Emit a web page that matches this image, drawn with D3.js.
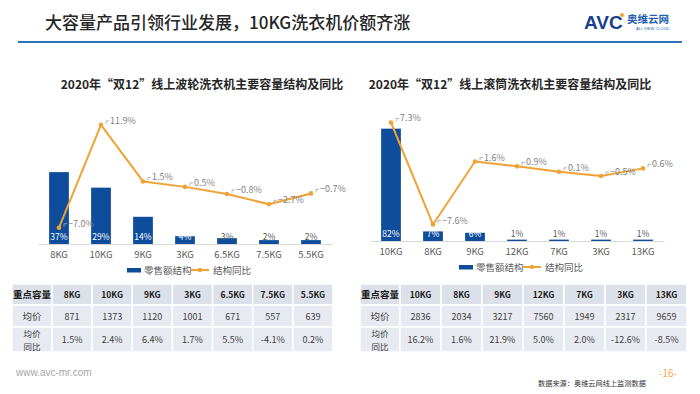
<!DOCTYPE html>
<html><head><meta charset="utf-8">
<script src="https://cdn.jsdelivr.net/npm/d3@7"></script>
<style>
html,body{margin:0;padding:0;background:#fff;}
svg{display:block;font-family:"Noto Sans CJK SC","Noto Sans",sans-serif;}
</style></head>
<body><svg id="c" width="700" height="394"></svg>
<script>
// ---- data ----
const pageTitle = "大容量产品引领行业发展，10KG洗衣机价额齐涨";
const leftTitle = "2020年“双12”线上波轮洗衣机主要容量结构及同比";
const rightTitle = "2020年“双12”线上滚筒洗衣机主要容量结构及同比";
const legendLabels = ["零售额结构", "结构同比"];
const leftCats = ["8KG","10KG","9KG","3KG","6.5KG","7.5KG","5.5KG"];
const leftShare = [37,29,14,4,3,2,2];
const leftYoY = [-7.0,11.9,1.5,0.5,-0.8,-2.7,-0.7];
const rightCats = ["10KG","8KG","9KG","12KG","7KG","3KG","13KG"];
const rightShare = [82,7,6,1,1,1,1];
const rightYoY = [7.3,-7.6,1.6,0.9,0.1,-0.5,0.6];
const rowHeaders = ["重点容量","均价","均价\n同比"];
const leftPrice = [871,1373,1120,1001,671,557,639];
const leftPriceYoY = ["1.5%","2.4%","6.4%","1.7%","5.5%","-4.1%","0.2%"];
const rightPrice = [2836,2034,3217,7560,1949,2317,9659];
const rightPriceYoY = ["16.2%","1.6%","21.9%","5.0%","2.0%","-12.6%","-8.5%"];
const sourceText = "数据来源：奥维云网线上监测数据";
const siteText = "www.avc-mr.com";
const pageNo = "-16-";

const BLUE = "#0E4D9C", ORANGE = "#EFA235", GRAY = "#595959";
const svg = d3.select("#c");

// ---- header ----
svg.append("text").attr("x",45).attr("y",29).attr("font-size",17).attr("font-weight",500)
  .attr("fill","#262626").text(pageTitle);
svg.append("line").attr("x1",18).attr("x2",682).attr("y1",42).attr("y2",42)
  .attr("stroke","#2E75B6").attr("stroke-width",2);
// logo
svg.append("text").attr("x",584).attr("y",29).attr("font-family","Liberation Sans, Arial")
  .attr("font-size",19).attr("font-weight",900).attr("fill","#1B3F8F").text("AVC");
svg.append("circle").attr("cx",622).attr("cy",15).attr("r",2).attr("fill",ORANGE);
svg.append("text").attr("x",627).attr("y",23).attr("font-size",10.5).attr("font-weight",700)
  .attr("fill","#1F5FB0").text("奥维云网");
svg.append("text").attr("x",636).attr("y",30).attr("font-size",4).attr("font-family","Liberation Sans, Arial")
  .attr("fill","#1F5FB0").text("ALL VIEW CLOUD");

// ---- chart builder ----
function drawChart(cfg){
  const g = svg.append("g");
  g.append("text").attr("x",cfg.titleX).attr("y",89).attr("text-anchor","middle")
    .attr("font-size",12).attr("font-weight",700).attr("fill","#262626").text(cfg.title);
  const x = d3.scaleBand().domain(cfg.cats).range(cfg.xRange).paddingInner(0.53).paddingOuter(0.265);
  const yB = d3.scaleLinear().domain(cfg.barDomain).range([cfg.base, cfg.top]);
  const yL = d3.scaleLinear().domain(cfg.lineDomain).range([cfg.base, cfg.top]);
  const cx = i => x(cfg.cats[i]) + x.bandwidth()/2;
  // baseline axis
  const ax = g.append("g").attr("transform",`translate(0,${cfg.base})`)
    .call(d3.axisBottom(x).tickSize(0).tickPadding(7));
  ax.select(".domain").attr("stroke","#D9D9D9").attr("stroke-width",1);
  ax.selectAll("text").attr("font-size",9.5).attr("fill",GRAY).attr("font-family","Noto Sans CJK SC");
  // bars
  g.selectAll("rect.bar").data(cfg.share).join("rect").attr("class","bar")
    .attr("x",(d,i)=>x(cfg.cats[i])).attr("width",x.bandwidth())
    .attr("y",d=>yB(d)).attr("height",d=>cfg.base-yB(d)).attr("fill",BLUE);
  // bar labels
  g.selectAll("text.bl").data(cfg.share).join("text").attr("class","bl")
    .attr("x",(d,i)=>cx(i)).attr("y",cfg.base-4.5)
    .attr("text-anchor","middle").attr("font-size",8.5)
    .attr("fill",d=>(cfg.base-yB(d))>=7?"#fff":GRAY).text(d=>d+"%");
  // line
  const line = d3.line().x((d,i)=>cx(i)).y(d=>yL(d));
  g.append("path").datum(cfg.yoy).attr("d",line).attr("fill","none")
    .attr("stroke",ORANGE).attr("stroke-width",2).attr("stroke-linejoin","round");
  g.selectAll("circle.pt").data(cfg.yoy).join("circle").attr("class","pt")
    .attr("cx",(d,i)=>cx(i)).attr("cy",d=>yL(d)).attr("r",2.3).attr("fill",ORANGE);
  // line labels with small leader hooks
  g.selectAll("path.ld").data(cfg.yoy).join("path").attr("class","ld")
    .attr("d",(d,i)=>{const tx=cx(i)+5, ty=yL(d)-4; return `M${tx},${ty+3}V${ty}H${tx+3}`;})
    .attr("fill","none").attr("stroke","#A6A6A6").attr("stroke-width",0.8);
  g.selectAll("text.ll").data(cfg.yoy).join("text").attr("class","ll")
    .attr("x",(d,i)=>cx(i)+9).attr("y",d=>yL(d)-1)
    .attr("font-size",9).attr("fill","#7F7F7F").text(d=>d3.format(".1f")(d)+"%");
  // legend
  const lg = g.append("g").attr("transform",`translate(${cfg.legendX},${cfg.legendY})`);
  lg.append("rect").attr("x",0).attr("y",-2).attr("width",14).attr("height",4.5).attr("fill",BLUE);
  lg.append("text").attr("x",17).attr("y",3.5).attr("font-size",9.5).attr("fill",GRAY).text(legendLabels[0]);
  lg.append("line").attr("x1",64).attr("x2",82).attr("y1",0).attr("y2",0).attr("stroke",ORANGE).attr("stroke-width",2);
  lg.append("circle").attr("cx",73).attr("cy",0).attr("r",2.2).attr("fill",ORANGE);
  lg.append("text").attr("x",86).attr("y",3.5).attr("font-size",9.5).attr("fill",GRAY).text(legendLabels[1]);
}

drawChart({title:leftTitle,titleX:202,cats:leftCats,share:leftShare,yoy:leftYoY,
  xRange:[38,332],base:244,top:108,barDomain:[0,70],lineDomain:[-10,15],legendX:127,legendY:270});
drawChart({title:rightTitle,titleX:510,cats:rightCats,share:rightShare,yoy:rightYoY,
  xRange:[370,664],base:241,top:104,barDomain:[0,100],lineDomain:[-10,10],legendX:459,legendY:267});

// ---- tables ----
function drawTable(x0, x1, firstW, cats, prices, yoys){
  const g = svg.append("g");
  const rows = [284, 305, 327, 352];
  const xs = d3.scaleBand().domain(d3.range(cats.length)).range([x0+firstW, x1]);
  const rowData = [cats, prices.map(String), yoys];
  rowData.forEach((vals, r)=>{
    const y0 = rows[r], h = rows[r+1]-rows[r];
    const fill = r===0?"#DCE0E8":"#E7EAF0";
    g.append("rect").attr("x",x0).attr("y",y0).attr("width",firstW).attr("height",h)
      .attr("fill",fill).attr("stroke","#fff").attr("stroke-width",1.5);
    const lines = rowHeaders[r].split("\n");
    if (lines.length === 1) {
      g.append("text").attr("text-anchor","middle").attr("x",x0+firstW/2).attr("y",y0+h/2+3.5)
        .attr("font-size",9.5).attr("font-weight",r===0?700:400)
        .attr("fill",r===0?"#1a1a1a":"#404040").text(lines[0]);
    } else {
      lines.forEach((s,k)=>{
        g.append("text").attr("text-anchor","middle").attr("x",x0+firstW/2)
          .attr("y",y0+10+k*12.5).attr("font-size",8.5).attr("fill","#404040").text(s);
      });
    }
    vals.forEach((v,i)=>{
      g.append("rect").attr("x",xs(i)).attr("y",y0).attr("width",xs.bandwidth()).attr("height",h)
        .attr("fill",fill).attr("stroke","#fff").attr("stroke-width",1.5);
      g.append("text").attr("x",xs(i)+xs.bandwidth()/2).attr("y",y0+h/2+3.5)
        .attr("text-anchor","middle").attr("font-size",r===0?8.5:9).attr("font-weight",r===0?700:400)
        .attr("fill",r===0?"#1a1a1a":"#404040").text(v);
    });
  });
}
drawTable(12, 333, 40, leftCats, leftPrice, leftPriceYoY);
drawTable(360, 687, 40, rightCats, rightPrice, rightPriceYoY);

// ---- footer ----
svg.append("text").attr("x",16).attr("y",376).attr("font-size",10).attr("fill","#A6A6A6")
  .attr("font-family","Liberation Sans, Arial").text(siteText);
svg.append("text").attr("x",668).attr("y",377).attr("text-anchor","middle").attr("font-size",10)
  .attr("fill","#F4A64A").text(pageNo);
svg.append("text").attr("x",538).attr("y",386).attr("font-size",7.2).attr("fill","#333").text(sourceText);
</script></body></html>
